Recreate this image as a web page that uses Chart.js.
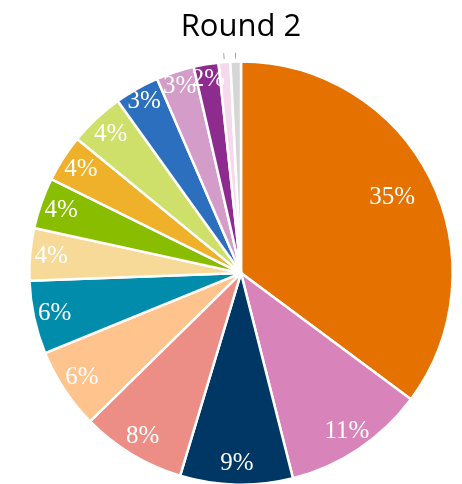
<!DOCTYPE html>
<html>
<head>
<meta charset="utf-8">
<script src="https://cdn.jsdelivr.net/npm/chart.js@4"></script>
<style>
html,body{margin:0;padding:0;background:#fff;overflow:hidden;}
#wrap{position:absolute;left:0;top:0;width:462px;height:492px;}
</style>
</head>
<body>
<div id="wrap"><canvas id="c"></canvas></div>
<script>
const categories = ['A','B','C','D','E','F','G','H','I','J','K','L','M','N','O'];
const values = [35.2, 10.9, 8.6, 8.0, 6.2, 5.6, 4.0, 3.9, 3.6, 4.2, 3.4, 2.9, 1.9, 0.9, 0.8];
const colors = ['#E57200','#D884BA','#003764','#EC8E86','#FFC48E','#008CAA','#F7DA97','#89BE00','#F0B12A','#CEDF6A','#2C6FBF','#D39CC9','#8D2C8E','#F5DAEC','#D6D6D6'];
const pctLabels = values.map(v => Math.round(v) + '%');
const titleText = 'Round 2';

const labelPlugin = {
  id: 'sliceLabels',
  afterDatasetsDraw(chart) {
    const ctx = chart.ctx;
    const meta = chart.getDatasetMeta(0);
    ctx.save();
    meta.data.forEach((arc, i) => {
      const p = arc.getProps(['x','y','startAngle','endAngle','outerRadius'], true);
      const mid = (p.startAngle + p.endAngle) / 2;
      if (values[i] < 1.5) {
        ctx.strokeStyle = '#A6A6A6';
        ctx.lineWidth = 1;
        ctx.beginPath();
        ctx.moveTo(p.x + Math.cos(mid) * (p.outerRadius + 3), p.y + Math.sin(mid) * (p.outerRadius + 3));
        ctx.lineTo(p.x + Math.cos(mid) * (p.outerRadius + 9), p.y + Math.sin(mid) * (p.outerRadius + 9));
        ctx.stroke();
        return;
      }
      let f = 0.9;
      if (i === 0) f = 0.8;
      if (i >= 10) f = 0.93;
      const r = p.outerRadius * f;
      ctx.fillStyle = '#FFFFFF';
      ctx.font = '25px "Liberation Serif", serif';
      ctx.textAlign = 'center';
      ctx.textBaseline = 'middle';
      ctx.fillText(pctLabels[i], p.x + Math.cos(mid) * r, p.y + Math.sin(mid) * r);
    });
    ctx.restore();
  }
};

new Chart(document.getElementById('c'), {
  type: 'pie',
  data: {
    labels: categories,
    datasets: [{
      data: values,
      backgroundColor: colors,
      borderColor: '#FFFFFF',
      borderWidth: 2.5
    }]
  },
  options: {
    responsive: true,
    maintainAspectRatio: false,
    animation: false,
    layout: { padding: { left: 20, right: 0, top: 0, bottom: 6 } },
    plugins: {
      legend: { display: false },
      tooltip: { enabled: false },
      title: {
        display: true,
        text: titleText,
        color: '#000000',
        font: { family: '"Open Sans", sans-serif', size: 31, weight: 'normal' },
        padding: { top: 9, bottom: 14 }
      }
    }
  },
  plugins: [labelPlugin]
});
</script>
</body>
</html>
